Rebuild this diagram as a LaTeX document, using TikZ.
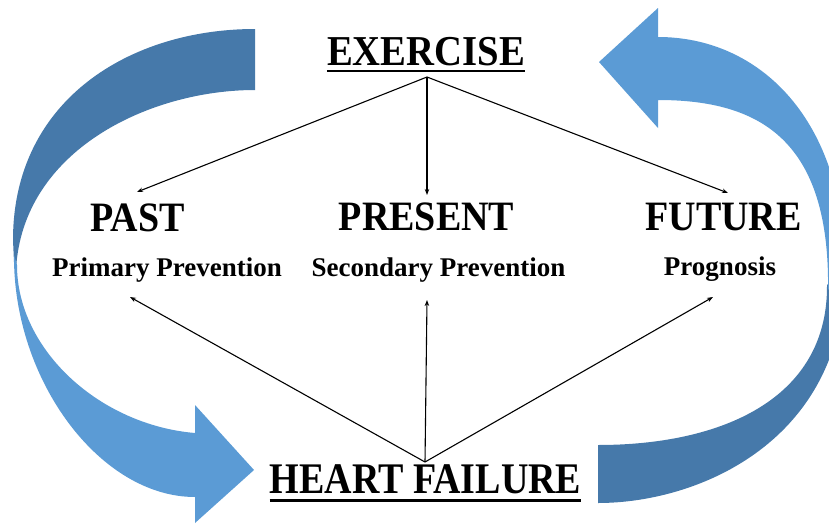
\documentclass[tikz,border=0pt]{standalone}
\usepackage{fontspec}
\setmainfont{Liberation Serif}
\usetikzlibrary{arrows.meta}
\definecolor{ribbonlight}{RGB}{91,155,213}
\definecolor{ribbondark}{RGB}{70,121,170}
\newcommand{\tallword}[1]{\scalebox{1}[1.1]{#1}}
\begin{document}
\begin{tikzpicture}[x=1pt,y=-1pt,
  big/.style={font=\fontsize{38}{40}\selectfont\bfseries, inner sep=0pt, anchor=base},
  sub/.style={font=\fontsize{27}{30}\selectfont\bfseries, inner sep=0pt, anchor=base},
  conn/.style={line width=1.1pt, -{Stealth[length=6pt,width=4.5pt]}},
  uline/.style={line width=2.6pt}]
\useasboundingbox (0,0) rectangle (829,525);
\begin{scope}
\clip (0,0) rectangle (829,525);
% left ribbon: back part (dark)
\fill[ribbondark] (255,29) .. controls (130,29) and (13,100) .. (13,240) -- (14,262) -- (16,270)
  .. controls (22,150) and (150,90) .. (255,90) -- cycle;
% left ribbon: front part with arrowhead (light)
\fill[ribbonlight] (14,255) .. controls (13,380) and (100,497) .. (195,497) -- (195,523) -- (254,470)
  -- (195,405) -- (195,433) .. controls (100,425) and (17,350) .. (17,265) -- cycle;
% right ribbon: back part (dark)
\fill[ribbondark] (598,503) .. controls (700,503) and (845,440) .. (845,270) -- (827,285)
  .. controls (828,400) and (720,445) .. (598,445) -- cycle;
% right ribbon: front part with arrowhead (light)
\fill[ribbonlight] (658,37) .. controls (760,37) and (845,120) .. (845,270) -- (828,290)
  .. controls (830,140) and (760,100) .. (658,100) -- (658,128) -- (599,62) -- (658,8) -- cycle;
\end{scope}

\node[big, font=\fontsize{38.7}{40}\selectfont\bfseries] (exercise) at (426,65) {\tallword{EXERCISE}};
\node[big] (past) at (137.5,231) {\tallword{PAST}};
\node[big] (present) at (426.5,230) {\tallword{PRESENT}};
\node[big] (future) at (723.5,230) {\tallword{FUTURE}};
\node[sub] (primary) at (167,276) {Primary Prevention};
\node[sub] (secondary) at (438.5,276) {Secondary Prevention};
\node[sub] (prognosis) at (720,275) {Prognosis};
\node[big] (hf) at (425.5,493) {\scalebox{1}[1.15]{HEART FAILURE}};

\draw[uline] ([yshift=-6pt]exercise.base west) -- ([yshift=-6pt]exercise.base east);
\draw[uline, line width=3pt] ([yshift=-7pt]hf.base west) -- ([yshift=-7pt]hf.base east);

\coordinate (exapex) at (427,77);
\coordinate (hfapex) at (425,462);
\coordinate (pastin) at (137,192);
\coordinate (presentin) at (427,195);
\coordinate (futurein) at (728,193);
\coordinate (primaryin) at (130,297);
\coordinate (secondaryin) at (427,300);
\coordinate (prognosisin) at (713,297);

\draw[conn] (exapex) -- (pastin);
\draw[conn] (exapex) -- (presentin);
\draw[conn] (exapex) -- (futurein);
\draw[conn] (hfapex) -- (primaryin);
\draw[conn] (hfapex) -- (secondaryin);
\draw[conn] (hfapex) -- (prognosisin);
\end{tikzpicture}
\end{document}
